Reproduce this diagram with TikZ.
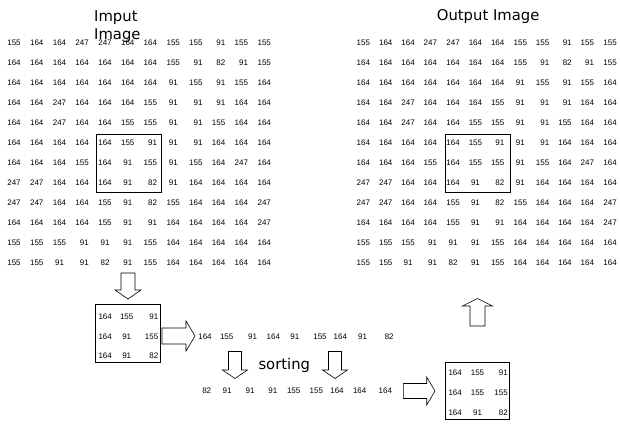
\documentclass[tikz,border=0pt]{standalone}
\usepackage{fontspec}
\setmainfont{Liberation Sans}
\newfontfamily\titlefont{DejaVu Sans}
\begin{document}
\begin{tikzpicture}[x=1pt,y=-1pt,
  num/.style={font=\fontsize{8}{9}\selectfont, inner sep=0pt, text height=5.7pt, text depth=0pt},
  ttl/.style={font=\titlefont\fontsize{14.8}{17}\selectfont, inner sep=0pt, anchor=base west},
  frame/.style={draw=black, line width=0.8pt, inner sep=0pt, anchor=north west},
  blockarrow/.style={draw=black, fill=white, line width=0.6pt, line join=miter}]
\useasboundingbox (0,0) rectangle (620,428);

% ---------- grids ----------
\def\gridA{{155,164,164,247,247,164,164,155,155,91,155,155},
{164,164,164,164,164,164,164,155,91,82,91,155},
{164,164,164,164,164,164,164,91,155,91,155,164},
{164,164,247,164,164,164,155,91,91,91,164,164},
{164,164,247,164,164,155,155,91,91,155,164,164},
{164,164,164,164,164,155,91,91,91,164,164,164},
{164,164,164,155,164,91,155,91,155,164,247,164},
{247,247,164,164,164,91,82,91,164,164,164,164},
{247,247,164,164,155,91,82,155,164,164,164,247},
{164,164,164,164,155,91,91,164,164,164,164,247},
{155,155,155,91,91,91,155,164,164,164,164,164},
{155,155,91,91,82,91,155,164,164,164,164,164}}
\def\gridB{{155,164,164,247,247,164,164,155,155,91,155,155},
{164,164,164,164,164,164,164,155,91,82,91,155},
{164,164,164,164,164,164,164,91,155,91,155,164},
{164,164,247,164,164,164,155,91,91,91,164,164},
{164,164,247,164,164,155,155,91,91,155,164,164},
{164,164,164,164,164,155,91,91,91,164,164,164},
{164,164,164,155,164,155,155,91,155,164,247,164},
{247,247,164,164,164,91,82,91,164,164,164,164},
{247,247,164,164,155,91,82,155,164,164,164,247},
{164,164,164,164,155,91,91,164,164,164,164,247},
{155,155,155,91,91,91,155,164,164,164,164,164},
{155,155,91,91,82,91,155,164,164,164,164,164}}

\foreach \row [count=\i] in \gridA {
  \foreach \v [count=\j] in \row {
    \pgfmathtruncatemacro\al{{0,0,0,1,0,0,1,0,1,1,1,0}[\j-1]}
    \pgfmathsetmacro\xx{14+22.75*(\j-1)}
    \pgfmathsetmacro\yy{42.3+20*(\i-1)}
    \ifnum\al=1
      \node[num,anchor=east] (L-\i-\j) at (\xx+6.67,\yy) {\v};
    \else
      \node[num] (L-\i-\j) at (\xx,\yy) {\v};
    \fi
  }
}
\foreach \row [count=\i] in \gridB {
  \foreach \v [count=\j] in \row {
    \pgfmathtruncatemacro\al{{0,0,0,1,0,0,1,0,1,1,1,0}[\j-1]}
    \pgfmathsetmacro\xx{363.3+22.43*(\j-1)}
    \pgfmathsetmacro\yy{42.3+20*(\i-1)}
    \ifnum\al=1
      \node[num,anchor=east] (R-\i-\j) at (\xx+6.67,\yy) {\v};
    \else
      \node[num] (R-\i-\j) at (\xx,\yy) {\v};
    \fi
  }
}

% windows in the grids
\node[frame, minimum width=64.7pt, minimum height=57.7pt] (winL) at (96,134) {};
\node[frame, minimum width=65pt, minimum height=57.7pt] (winR) at (445,134) {};

% titles
\node[ttl] (tin1) at (94,21.3) {Imput};
\node[ttl] (tin2) at (94,40) {Image};
\node[ttl] (tout) at (436.7,20.5) {Output Image};
\node[ttl] (tsort) at (258.3,369) {sorting};

% ---------- box 1 (extracted window) ----------
\node[frame, minimum width=65pt, minimum height=57.4pt] (box1) at (95,304.3) {};
\node[num,anchor=west] (b1-11) at (98.3,316.5) {164};
\node[num] (b1-12) at (126.7,316.5) {155};
\node[num,anchor=east] (b1-13) at (158.5,316.5) {91};
\node[num,anchor=west] (b1-21) at (98.3,336.5) {164};
\node[num] (b1-22) at (126.7,336.5) {91};
\node[num,anchor=east] (b1-23) at (158.5,336.5) {155};
\node[num,anchor=west] (b1-31) at (98.3,355.5) {164};
\node[num] (b1-32) at (126.7,355.5) {91};
\node[num,anchor=east] (b1-33) at (158.5,355.5) {82};

% ---------- flattened row ----------
\foreach \v/\x [count=\k] in {164/205,155/226.7,91/252.5,164/273.3,91/294.8,155/320,164/340.3,91/362.5,82/389.2}
  \node[num] (F\k) at (\x,337) {\v};

% ---------- sorted row ----------
\foreach \v/\x [count=\k] in {82/206.7,91/227,91/250,91/272.8,155/293.7,155/316.3,164/337,164/359.7,164/385.3}
  \node[num] (S\k) at (\x,390.7) {\v};

% ---------- box 3 (result window) ----------
\node[frame, minimum width=64.8pt, minimum height=57pt] (box3) at (444.5,362) {};
\node[num,anchor=west] (b3-11) at (448.3,372.3) {164};
\node[num] (b3-12) at (477.5,372.3) {155};
\node[num,anchor=east] (b3-13) at (508,372.3) {91};
\node[num,anchor=west] (b3-21) at (448.3,392.3) {164};
\node[num] (b3-22) at (477.5,392.3) {155};
\node[num,anchor=east] (b3-23) at (508,392.3) {155};
\node[num,anchor=west] (b3-31) at (448.3,412.3) {164};
\node[num] (b3-32) at (477.5,412.3) {91};
\node[num,anchor=east] (b3-33) at (508,412.3) {82};

% ---------- block arrows ----------
% down, grid -> box1
\draw[blockarrow] (121,273) -- (135,273) -- (135,290) -- (141,290) -- (128,299) -- (115,290) -- (121,290) -- cycle;
% right, box1 -> flattened row
\draw[blockarrow] (162,328) -- (186,328) -- (186,321) -- (195,336) -- (186,351) -- (186,344) -- (162,344) -- cycle;
% sorting arrows
\draw[blockarrow] (228.5,351.5) -- (241.5,351.5) -- (241.5,370) -- (247.5,370) -- (235,378.5) -- (222.5,370) -- (228.5,370) -- cycle;
\draw[blockarrow] (328.5,351.5) -- (341.5,351.5) -- (341.5,370) -- (347.5,370) -- (335,378.5) -- (322.5,370) -- (328.5,370) -- cycle;
% right, sorted row -> box3
\draw[blockarrow] (403.3,383.5) -- (426.7,383.5) -- (426.7,377) -- (435,391) -- (426.7,405) -- (426.7,398.5) -- (403.3,398.5) -- cycle;
% up, box3 -> output image
\draw[blockarrow] (470,326) -- (470,306) -- (462.5,306) -- (477.5,298.5) -- (492.5,306) -- (485,306) -- (485,326) -- cycle;
\end{tikzpicture}
\end{document}
